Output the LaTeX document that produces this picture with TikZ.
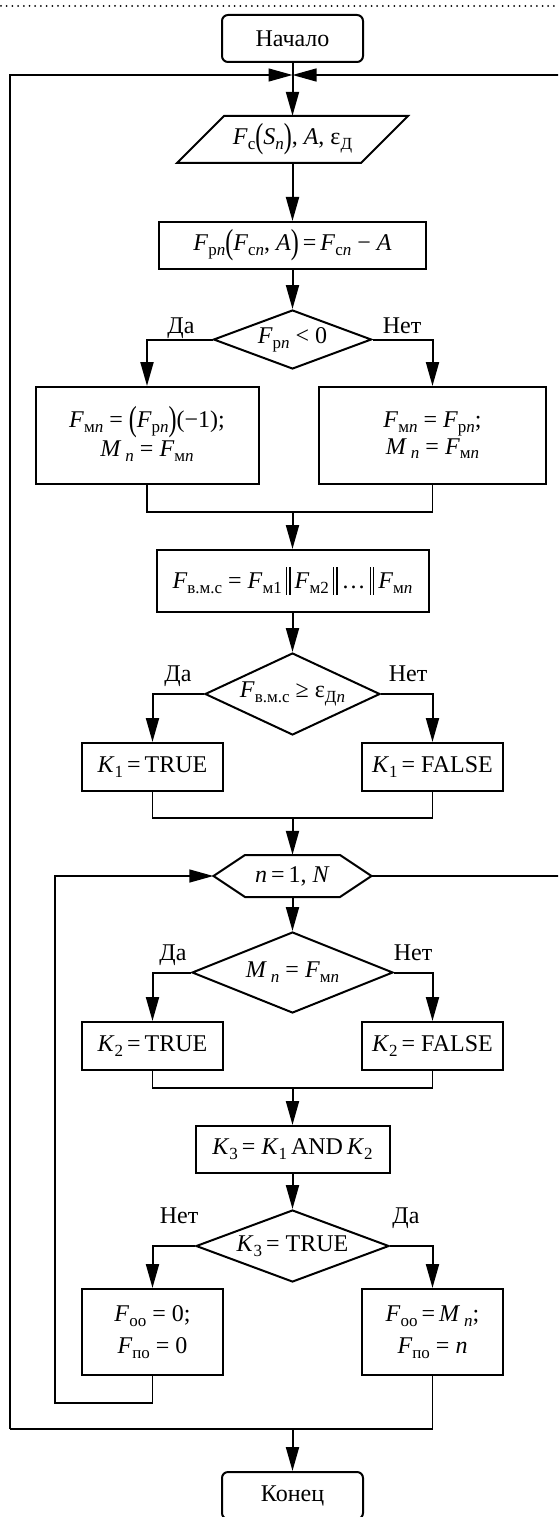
\documentclass[tikz,border=0pt]{standalone}
\usepackage{fontspec}
\setmainfont{Liberation Serif}
\usepackage{graphicx}
\usetikzlibrary{arrows.meta,shapes.geometric}
\newcommand\I[1]{\textit{#1}}
\newcommand\sbs[1]{\raisebox{-0.2em}{\fontsize{17}{17}\selectfont #1}}
\newcommand\lp{\raisebox{-0.14em}{\scalebox{1}[1.45]{(}}}
\newcommand\rp{\raisebox{-0.14em}{\scalebox{1}[1.45]{)}}}
\newcommand\dbar{\,\raisebox{-0.25em}{\rule{0.05em}{1.15em}\hspace{0.1em}\rule{0.05em}{1.15em}}\,}
\newcommand\two[2]{\begin{tabular}{@{}c@{}}#1\\#2\end{tabular}}
\begin{document}
\begin{tikzpicture}[x=1pt,y=-1pt,font=\fontsize{24}{26}\selectfont,
  box/.style={draw,line width=2pt,rectangle,inner sep=0pt,align=center},
  term/.style={box,rounded corners=6pt},
  dia/.style={draw,diamond,line width=2pt,inner sep=0pt},
  lbl/.style={anchor=base,inner sep=0pt},
  arr/.style={line width=2pt,-{Triangle[length=24pt,width=13pt]}},
  thin/.style={line width=1.2pt},
  thinarr/.style={line width=1.4pt,-{Triangle[length=24pt,width=13pt]}}]
\useasboundingbox (0,0) rectangle (558,1517);
\clip (0,0) rectangle (558,1517);
% dotted top rule
\draw[line width=2pt,dash pattern=on 0pt off 5.7pt,line cap=round] (1,6) -- (558,6);
% nodes
\node[term,minimum width=141pt,minimum height=47pt] (start) at (292.5,38.5) {Начало};
\coordinate (jtop) at (292.5,75);
\node[inner sep=0pt,minimum height=47pt] (io) at (292.5,139.5) {\I{F}\sbs{с}\lp\I{S}\sbs{\I{n}}\rp, \I{A}, ε\sbs{Д}};
\draw[line width=2pt] (224,116) -- (408,116) -- (361,163) -- (177,163) -- cycle;
\node[box,minimum width=267pt,minimum height=47pt] (p1) at (292.5,245.5) {\I{F}\sbs{р\I{n}}\lp\I{F}\sbs{с\I{n}}, \I{A}\rp\,=\,\I{F}\sbs{с\I{n}} − \I{A}};
\node[dia,minimum width=158pt,minimum height=59pt] (d1) at (292.5,339.5) {};
\node (d1t) at (d1) {\I{F}\sbs{р\I{n}} < 0};
\node[box,minimum width=223pt,minimum height=97pt] (b1l) at (147,435.5) {\raisebox{6pt}{\two{\I{F}\sbs{м\I{n}} = \lp\I{F}\sbs{р\I{n}}\rp(−1);}{\I{M}\,\sbs{\I{n}} = \I{F}\sbs{м\I{n}}}}};
\node[box,minimum width=227pt,minimum height=97pt] (b1r) at (432.5,435.5) {\raisebox{6pt}{\two{\I{F}\sbs{м\I{n}} = \I{F}\sbs{р\I{n}};}{\I{M}\,\sbs{\I{n}} = \I{F}\sbs{м\I{n}}}}};
\coordinate (m1) at (292.5,512);
\node[box,minimum width=272pt,minimum height=62pt] (p2) at (292.5,581) {\I{F}\sbs{в.м.с} = \I{F}\sbs{м1}\dbar\I{F}\sbs{м2}\dbar…\dbar\I{F}\sbs{м\I{n}}};
\node[dia,minimum width=175pt,minimum height=82pt] (d2) at (292.5,694) {};
\node (d2t) at (d2) {\I{F}\sbs{в.м.с} ≥ ε\sbs{Д\I{n}}};
\node[box,minimum width=141pt,minimum height=48pt] (k1l) at (152.5,767) {\I{K}\sbs{1}\,=\,TRUE};
\node[box,minimum width=141pt,minimum height=48pt] (k1r) at (432.5,767) {\I{K}\sbs{1}\,= FALSE};
\coordinate (m2) at (292.5,818);
\node[inner sep=0pt,minimum width=158pt,minimum height=42pt] (hex) at (292.5,876) {\I{n}\,=\,1, \I{N}};
\draw[line width=2pt] (213.5,876) -- (245,855) -- (340,855) -- (371.5,876) -- (340,897) -- (245,897) -- cycle;
\node[dia,minimum width=201pt,minimum height=81pt] (d3) at (292.5,972.5) {};
\node (d3t) at (d3) {\I{M}\,\sbs{\I{n}} = \I{F}\sbs{м\I{n}}};
\node[box,minimum width=141pt,minimum height=48pt] (k2l) at (152.5,1046) {\I{K}\sbs{2}\,=\,TRUE};
\node[box,minimum width=141pt,minimum height=48pt] (k2r) at (432.5,1046) {\I{K}\sbs{2}\,= FALSE};
\coordinate (m3) at (292.5,1088);
\node[box,minimum width=194pt,minimum height=47pt] (k3) at (292.5,1149.5) {\I{K}\sbs{3}\,= \I{K}\sbs{1}\,AND\,\I{K}\sbs{2}};
\node[dia,minimum width=193pt,minimum height=72pt] (d4) at (292.5,1246) {};
\node (d4t) at (d4) {\I{K}\sbs{3}\,= TRUE};
\node[box,minimum width=141pt,minimum height=86pt] (fl) at (152.5,1332) {\I{F}\sbs{оо} = 0;\\[6pt]\I{F}\sbs{по} = 0};
\node[box,minimum width=141pt,minimum height=86pt] (fr) at (432.5,1332) {\I{F}\sbs{оо}\,=\,\I{M}\,\sbs{\I{n}};\\[6pt]\I{F}\sbs{по} = \I{n}};
\coordinate (li) at (55,1403);
\coordinate (lo) at (10,1429);
\coordinate (m4) at (292.5,1429);
\coordinate (ro) at (561,876);
\node[term,minimum width=141pt,minimum height=47pt] (end) at (292.5,1495.5) {Конец};
% labels
\node[lbl] (l1) at (181,333) {Да};
\node[lbl] (l2) at (402,333) {Нет};
\node[lbl] (l3) at (178,681) {Да};
\node[lbl] (l4) at (408,681) {Нет};
\node[lbl] (l5) at (173,960) {Да};
\node[lbl] (l6) at (413,960) {Нет};
\node[lbl] (l7) at (179,1223) {Нет};
\node[lbl] (l8) at (406,1223) {Да};
% connectors
\draw[arr] (start.south) -- (io.north);
\draw[arr] (io.south) -- (p1.north);
\draw[arr] (p1.south) -- (d1.north);
\draw[arr] (d1.west) -| (b1l.north);
\draw[arr] (d1.east) -| (b1r.north);
\draw[thin] (b1l.south) |- (m1) -| (b1r.south);
\draw[arr] (m1) -- (p2.north);
\draw[arr] (p2.south) -- (d2.north);
\draw[arr] (d2.west) -| (k1l.north);
\draw[arr] (d2.east) -| (k1r.north);
\draw[thin] (k1l.south) |- (m2) -| (k1r.south);
\draw[arr] (m2) -- (hex.north);
\draw[arr] (hex.south) -- (d3.north);
\draw[arr] (d3.west) -| (k2l.north);
\draw[arr] (d3.east) -| (k2r.north);
\draw[thin] (k2l.south) |- (m3) -| (k2r.south);
\draw[arr] (m3) -- (k3.north);
\draw[arr] (k3.south) -- (d4.north);
\draw[arr] (d4.west) -| (fl.north);
\draw[arr] (d4.east) -| (fr.north);
\draw[thinarr] (fl.south) |- (li) |- (hex.west);
\draw[thin] (fr.south) |- (lo);
\draw[thinarr] (lo) |- (jtop);
\draw[thinarr] (hex.east) -- (ro) |- (jtop);
\draw[arr] (m4) -- (end.north);
\end{tikzpicture}
\end{document}
